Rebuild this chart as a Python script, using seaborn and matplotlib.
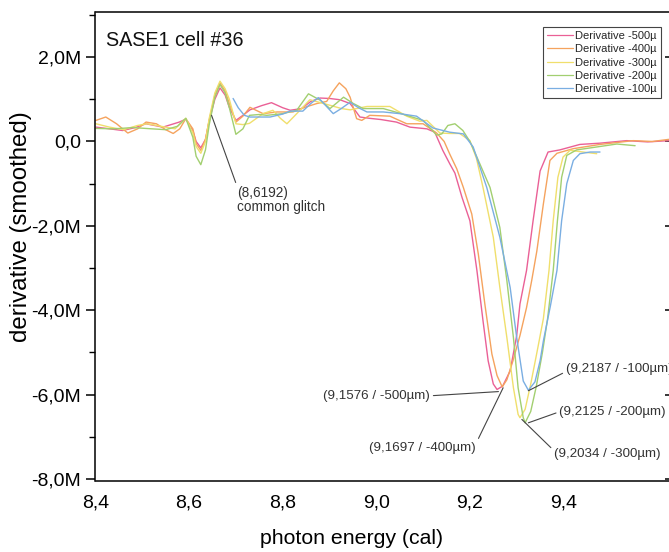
import matplotlib
matplotlib.use("Agg")
import matplotlib.pyplot as plt
import matplotlib.ticker as mticker
import numpy as np
import pandas as pd
import seaborn as sns

# ---------------- data (derivative in units of 1e6) ----------------
series_labels = ["Derivative -500µ", "Derivative -400µ", "Derivative -300µ",
                 "Derivative -200µ", "Derivative -100µ"]
series_colors = ["#ea6096", "#f5a35e", "#f0df6c", "#a2cf70", "#7aaee2"]

pink_x = [8.401, 8.43, 8.458, 8.485, 8.508, 8.544, 8.579, 8.593, 8.608, 8.615, 8.625, 8.635, 8.643, 8.655,
          8.666, 8.677, 8.686, 8.700,
          8.715, 8.73, 8.755, 8.776, 8.80, 8.816, 8.84, 8.86, 8.88, 8.90, 8.922, 8.944, 8.965, 8.985, 9.01,
          9.043, 9.072, 9.108, 9.125, 9.142, 9.157, 9.168, 9.183, 9.200, 9.215, 9.228, 9.239, 9.25, 9.258,
          9.27, 9.286, 9.30, 9.307, 9.321, 9.335, 9.350, 9.367, 9.392, 9.435, 9.478, 9.535, 9.58, 9.625]
pink_y = [0.34, 0.30, 0.26, 0.33, 0.42, 0.34, 0.46, 0.53, 0.26, 0.0, -0.15, 0.05, 0.50, 1.0,
          1.27, 1.1, 0.81, 0.50,
          0.62, 0.75, 0.85, 0.92, 0.80, 0.74, 0.78, 0.95, 1.03, 1.02, 0.99, 0.90, 0.58, 0.55, 0.52,
          0.46, 0.34, 0.30, 0.22, -0.21, -0.53, -0.75, -1.32, -1.88, -3.06, -4.25, -5.2, -5.75, -5.88,
          -5.8, -5.44, -4.6, -3.85, -3.06, -1.88, -0.70, -0.25, -0.20, -0.07, -0.04, 0.02, -0.01, 0.02]

orange_x = [8.401, 8.422, 8.445, 8.469, 8.49, 8.508, 8.53, 8.55, 8.566, 8.58, 8.593, 8.608, 8.615, 8.625,
            8.635, 8.643, 8.655, 8.666, 8.677, 8.686, 8.700, 8.715, 8.73, 8.758, 8.788, 8.822, 8.85, 8.873,
            8.894, 8.908, 8.921, 8.935,
            8.944, 8.958, 8.969, 8.986, 9.029, 9.065, 9.10, 9.129, 9.145, 9.157, 9.172, 9.186, 9.204, 9.218,
            9.232, 9.247, 9.258, 9.269, 9.279, 9.292, 9.307, 9.321, 9.332, 9.343, 9.357, 9.371, 9.386, 9.421,
            9.478, 9.549, 9.59, 9.625]
orange_y = [0.50, 0.58, 0.42, 0.20, 0.30, 0.46, 0.42, 0.28, 0.19, 0.30, 0.54, 0.30, -0.05, -0.21,
            0.05, 0.50, 1.1, 1.39, 1.2, 0.90, 0.46, 0.60, 0.81, 0.66, 0.70, 0.70, 0.82, 0.90,
            0.95, 1.20, 1.39, 1.25,
            1.05, 0.54, 0.50, 0.62, 0.60, 0.42, 0.42, 0.20, 0.00, -0.30, -0.65, -1.09, -1.72, -2.67,
            -3.86, -5.04, -5.55, -5.82, -5.65, -5.2, -4.6, -3.94, -3.3, -2.6, -1.48, -0.45, -0.28, -0.17,
            -0.07, 0.02, 0.0, 0.05]

yellow_x = [8.401, 8.43, 8.46, 8.49, 8.51, 8.54, 8.57, 8.593, 8.608, 8.615, 8.625, 8.635, 8.643, 8.655,
            8.666, 8.677, 8.686, 8.700,
            8.715, 8.729, 8.758, 8.779, 8.795, 8.809, 8.837, 8.858, 8.894, 8.926, 8.944, 8.980, 9.029,
            9.065, 9.093, 9.108, 9.136, 9.157, 9.178, 9.200, 9.214, 9.228, 9.250, 9.264, 9.279, 9.293,
            9.303, 9.307, 9.318, 9.330, 9.345, 9.357, 9.369, 9.378, 9.388, 9.399, 9.414, 9.442, 9.471]
yellow_y = [0.42, 0.34, 0.28, 0.38, 0.42, 0.36, 0.30, 0.55, 0.20, -0.12, -0.28, 0.0, 0.55, 1.15,
            1.43, 1.25, 1.00, 0.42,
            0.40, 0.43, 0.66, 0.74, 0.55, 0.42, 0.74, 0.99, 0.88, 0.78, 0.75, 0.83, 0.83,
            0.60, 0.48, 0.50, 0.20, 0.19, 0.19, 0.02, -0.4, -1.09, -2.27, -3.46, -4.65, -5.84,
            -6.47, -6.55, -6.35, -5.75, -4.9, -4.2, -3.06, -1.88, -0.85, -0.37, -0.21, -0.25, -0.29]

green_x = [8.401, 8.44, 8.48, 8.52, 8.55, 8.575, 8.593, 8.608, 8.615, 8.625, 8.635, 8.643, 8.655, 8.666,
           8.677, 8.686, 8.700, 8.715,
           8.729, 8.75, 8.766, 8.80, 8.830, 8.855, 8.880, 8.901, 8.930, 8.951, 8.972, 9.015, 9.050, 9.10,
           9.129, 9.140, 9.153, 9.168, 9.185, 9.200, 9.215, 9.243, 9.264, 9.279, 9.293, 9.303, 9.314,
           9.318, 9.330, 9.342, 9.355, 9.366, 9.378, 9.387, 9.396, 9.407, 9.428, 9.471, 9.514, 9.553]
green_y = [0.31, 0.30, 0.33, 0.30, 0.28, 0.36, 0.55, 0.10, -0.35, -0.55, -0.2, 0.40, 1.05, 1.35,
           1.15, 0.80, 0.17, 0.30,
           0.62, 0.64, 0.62, 0.66, 0.74, 1.13, 0.98, 0.78, 1.05, 0.90, 0.78, 0.78, 0.67, 0.50,
           0.15, 0.18, 0.38, 0.42, 0.26, 0.0, -0.37, -1.09, -2.04, -3.3, -4.65, -5.84, -6.55,
           -6.67, -6.4, -5.8, -5.0, -4.2, -3.06, -1.88, -0.85, -0.33, -0.20, -0.13, -0.06, -0.10]

blue_x = [8.694, 8.705, 8.718, 8.730, 8.773, 8.80, 8.816, 8.843, 8.860, 8.876, 8.892, 8.908, 8.925, 8.944,
          8.962, 8.980, 9.015, 9.050, 9.086, 9.121, 9.157, 9.186, 9.207, 9.236, 9.264, 9.286, 9.300, 9.314,
          9.325, 9.339, 9.350, 9.357, 9.372, 9.386, 9.396, 9.407, 9.421, 9.435, 9.457, 9.478]
blue_y = [1.02, 0.80, 0.62, 0.58, 0.58, 0.65, 0.72, 0.72, 0.90, 1.04, 0.85, 0.66, 0.78, 0.93,
          0.80, 0.70, 0.70, 0.66, 0.60, 0.32, 0.22, 0.18, -0.13, -1.09, -2.27, -3.46, -4.65, -5.68,
          -5.90, -5.70, -5.20, -4.73, -3.9, -3.06, -1.88, -1.0, -0.45, -0.29, -0.25, -0.25]

x_ticks = [8.4, 8.6, 8.8, 9.0, 9.2, 9.4]
y_ticks = [2.0, 0.0, -2.0, -4.0, -6.0, -8.0]

# annotations: text, pointed location, text location
annot_text = ["(9,1576 / -500µm)", "(9,1697 / -400µm)", "(9,2034 / -300µm)",
              "(9,2125 / -200µm)", "(9,2187 / -100µm)"]
annot_pt_x = [9.261, 9.271, 9.311, 9.325, 9.325]
annot_pt_y = [-5.93, -5.84, -6.59, -6.67, -5.91]
annot_tx_x = [9.115, 9.099, 9.380, 9.391, 9.405]
annot_tx_y = [-6.03, -7.26, -7.42, -6.41, -5.40]

glitch_text = "(8,6192)\ncommon glitch"
glitch_pt = (8.648, 0.62)
glitch_tx = (8.702, -1.05)

# ---------------- build frame ----------------
xs = [pink_x, orange_x, yellow_x, green_x, blue_x]
ys = [pink_y, orange_y, yellow_y, green_y, blue_y]
frames = []
for lab, xx, yy in zip(series_labels, xs, ys):
    assert len(xx) == len(yy), lab
    frames.append(pd.DataFrame({"energy": xx, "deriv": yy, "series": lab}))
df = pd.concat(frames, ignore_index=True)

# ---------------- style ----------------
sns.set_theme(style="white")
plt.rcParams["font.family"] = ["Liberation Sans", "DejaVu Sans"]

W, H = 669, 552
fig = plt.figure(figsize=(W / 100, H / 100), dpi=100)
ax_left, ax_right, ax_top, ax_bottom = 95.5, 671.0, 12.0, 481.0
ax = fig.add_axes([ax_left / W, 1 - ax_bottom / H, (ax_right - ax_left) / W, (ax_bottom - ax_top) / H])

palette = dict(zip(series_labels, series_colors))
sns.lineplot(data=df, x="energy", y="deriv", hue="series", palette=palette,
             sort=False, estimator=None, linewidth=1.0, legend=False, ax=ax)

ax.set_xlim(8.4, 8.4 + (ax_right - ax_left) / 468.0)
ax.set_ylim(-8.05, 3.07)

ax.set_xticks(x_ticks)
ax.set_yticks(y_ticks)
ax.xaxis.set_minor_locator(mticker.MultipleLocator(0.1))
ax.yaxis.set_minor_locator(mticker.MultipleLocator(1.0))
ax.xaxis.set_major_formatter(mticker.FuncFormatter(lambda v, p: f"{v:.1f}".replace(".", ",")))
ax.yaxis.set_major_formatter(mticker.FuncFormatter(
    lambda v, p: "0,0" if abs(v) < 1e-9 else f"{v:.1f}M".replace(".", ",")))

for side in ["left", "bottom", "top", "right"]:
    ax.spines[side].set_visible(True)
    ax.spines[side].set_color("black")
    ax.spines[side].set_linewidth(1.1)

ax.tick_params(axis="both", which="major", direction="out", length=6.5, width=1.1,
               labelsize=14, colors="black", pad=4)
ax.tick_params(axis="both", which="minor", direction="out", length=4, width=1.0, colors="black")
ax.tick_params(axis="x", which="major", length=6, pad=4)
ax.tick_params(axis="x", which="minor", length=3.5)
ax.tick_params(axis="y", which="major", right=True, left=True)
ax.tick_params(axis="y", which="minor", right=False, left=True)
for t in ax.yaxis.get_major_ticks():
    t.tick2line.set_marker(matplotlib.lines.TICKLEFT)
    t.tick2line.set_markersize(4)
ax.grid(False)

ax.set_xlabel("photon energy (cal)", fontsize=15.3, color="black")
ax.set_ylabel("derivative (smoothed)", fontsize=17.3, color="black")
ax.xaxis.set_label_coords((352 - ax_left) / (ax_right - ax_left), -(538 - ax_bottom) / (ax_bottom - ax_top),
                          transform=ax.transAxes)
ax.xaxis.label.set_va("center")
ax.yaxis.set_label_coords((21 - ax_left) / (ax_right - ax_left), (ax_bottom - 226.7) / (ax_bottom - ax_top))
ax.yaxis.label.set_va("center")

ax.text((106 - ax_left) / (ax_right - ax_left), (ax_bottom - 40) / (ax_bottom - ax_top),
        "SASE1 cell #36", transform=ax.transAxes, fontsize=14.2, va="center", ha="left", color="#111111")

# legend
handles = ax.get_lines()[:len(series_labels)]
leg = ax.legend(handles, series_labels, loc="upper right",
                bbox_to_anchor=(661 / W, 1 - 27 / H), bbox_transform=fig.transFigure,
                fontsize=8, frameon=True, fancybox=False, framealpha=1,
                edgecolor="#444444", borderpad=0.35, labelspacing=0.3,
                handlelength=2.3, handletextpad=0.25, borderaxespad=0)
leg.get_frame().set_linewidth(0.8)
for ln in leg.get_lines():
    ln.set_linewidth(0.9)

# annotations
ann_col = "#333333"
ap = dict(arrowstyle="-", color="#444444", lw=0.8, shrinkA=0, shrinkB=0)
ax.annotate(glitch_text, xy=glitch_pt, xytext=glitch_tx, textcoords="data",
            ha="left", va="top", fontsize=9.8, color=ann_col, linespacing=1.05,
            arrowprops=dict(ap, relpos=(0.0, 1.0)))

relpos_list = [(1.0, 0.5), (1.0, 0.85), (0.0, 0.8), (0.0, 0.5), (0.0, 0.3)]
ha_list = ["right", "center", "left", "left", "left"]
for txt, px, py, tx, ty, ha, rp in zip(annot_text, annot_pt_x, annot_pt_y, annot_tx_x, annot_tx_y,
                                       ha_list, relpos_list):
    ax.annotate(txt, xy=(px, py), xytext=(tx, ty), textcoords="data", ha=ha, va="center",
                fontsize=9.6, color=ann_col, annotation_clip=False,
                arrowprops=dict(ap, relpos=rp))

fig.savefig("out.png", dpi=100)
